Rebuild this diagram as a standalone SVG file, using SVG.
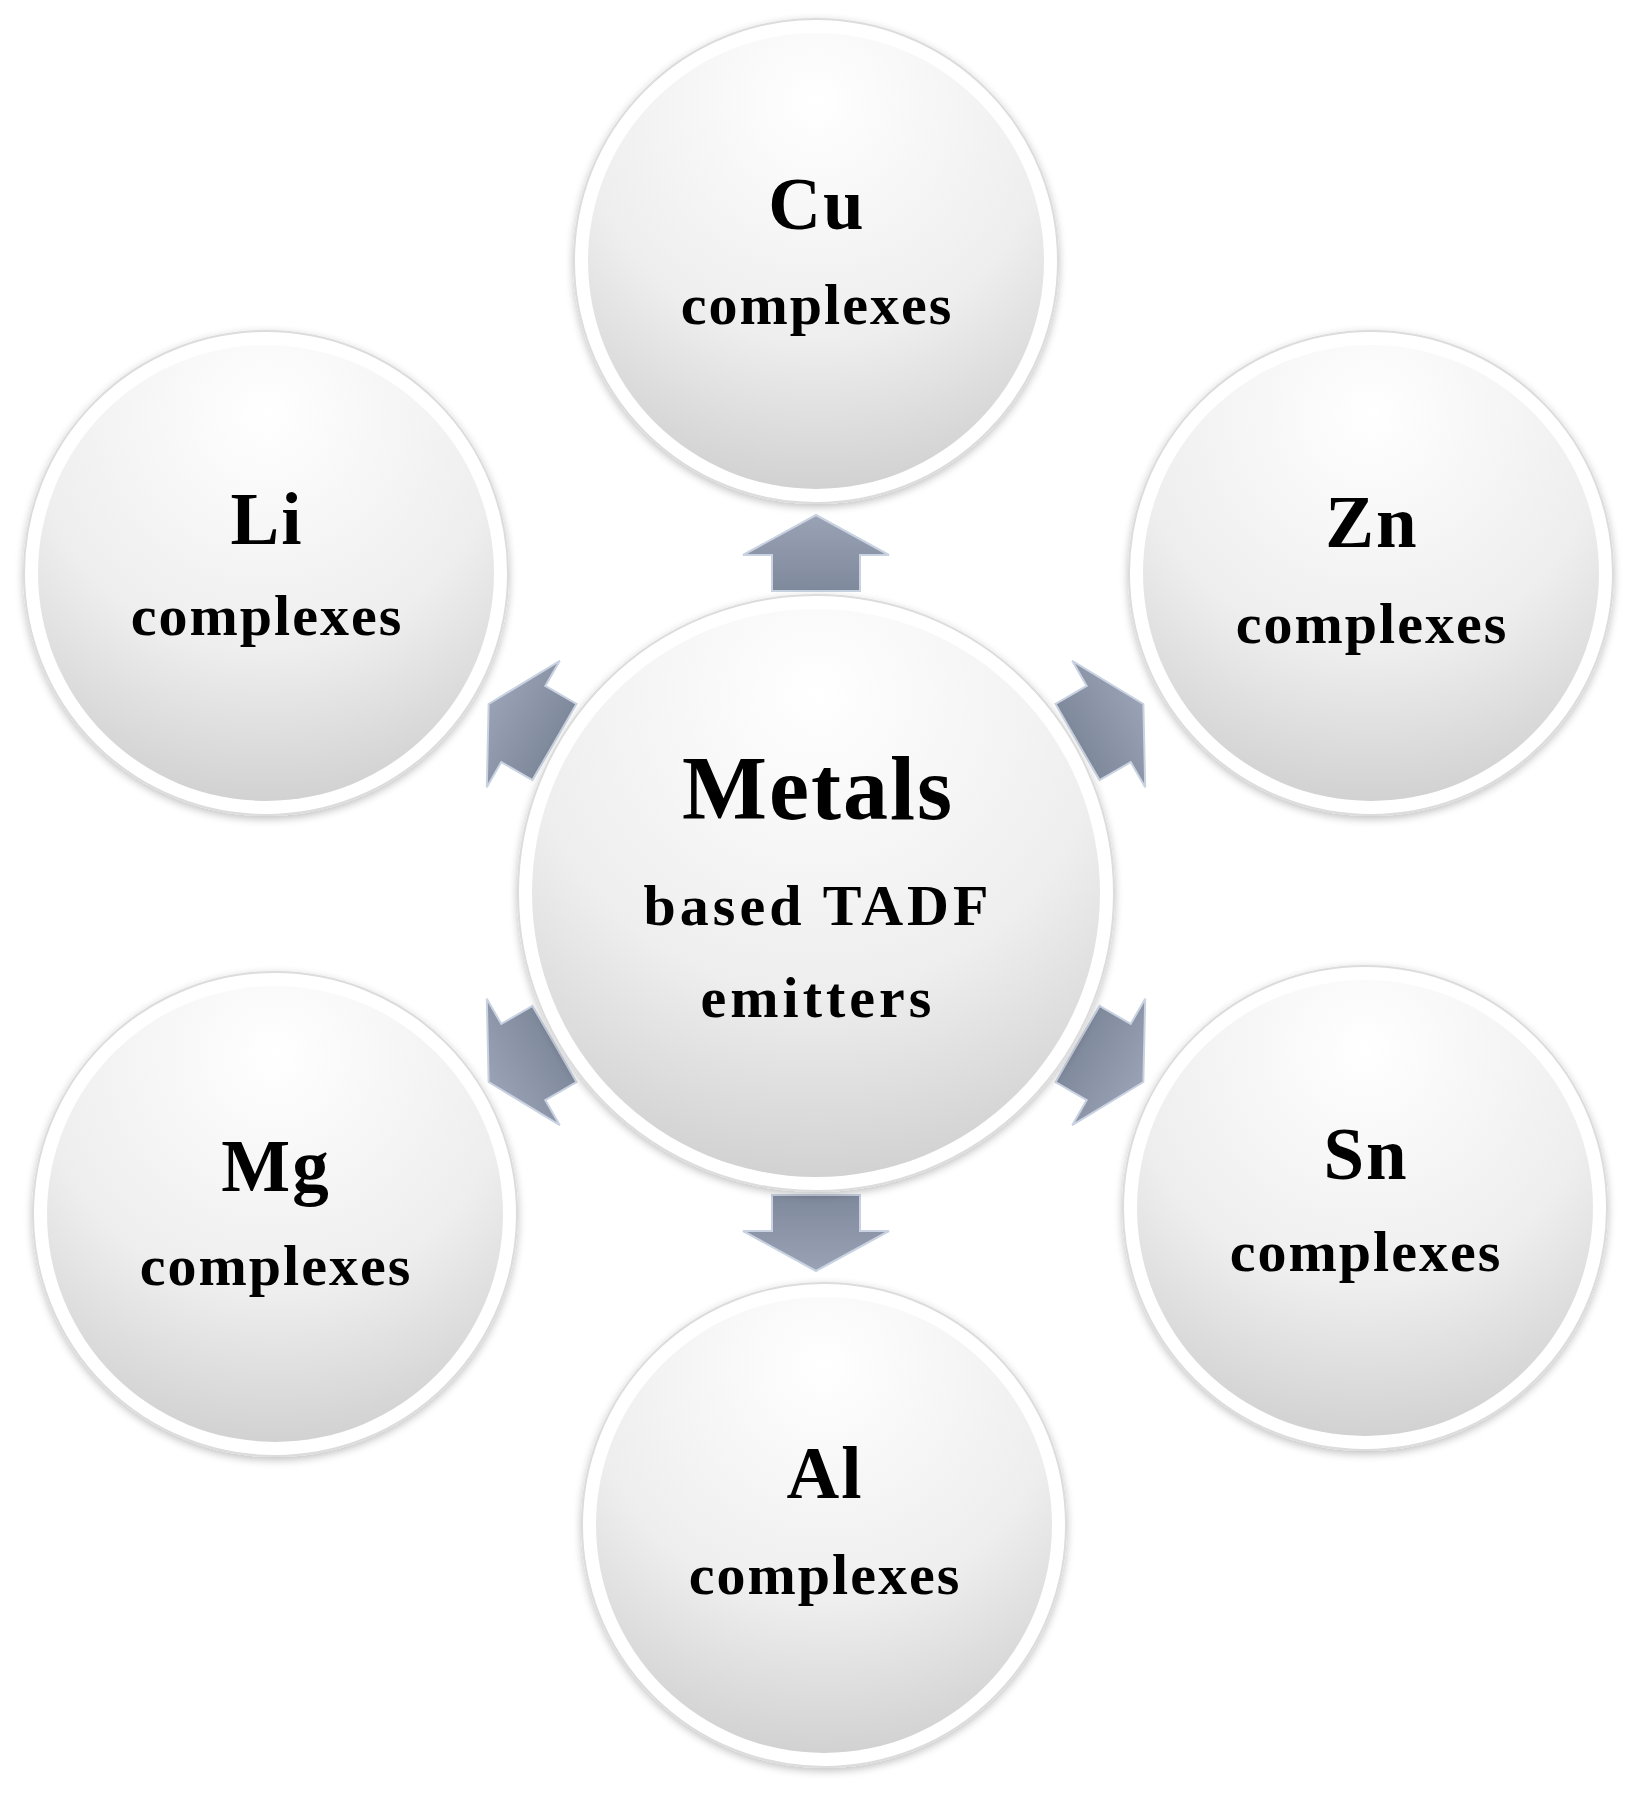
<svg xmlns="http://www.w3.org/2000/svg" width="1645" height="1803" viewBox="0 0 1645 1803">
<style>
.ring{fill:#ffffff;stroke:#dcdcdc;stroke-width:2}
.disc{fill:url(#g)}
.t{font-family:"Liberation Serif","Times New Roman",serif;font-weight:bold;text-anchor:middle;fill:#000}
.big{font-size:73px;letter-spacing:2px}
.small{font-size:58px;letter-spacing:2px}
.mid{font-size:58px;letter-spacing:4px}
.arr{fill:url(#ag);stroke:#c8d2e0;stroke-width:2}
</style>
<defs>
<radialGradient id="g" cx="0.5" cy="0.15" r="0.95">
<stop offset="0" stop-color="#ffffff"/>
<stop offset="0.55" stop-color="#eeeeee"/>
<stop offset="1" stop-color="#c9c9c9"/>
</radialGradient>
<linearGradient id="ag" x1="0" y1="0" x2="0" y2="1">
<stop offset="0" stop-color="#9aa3b5"/>
<stop offset="1" stop-color="#7f899c"/>
</linearGradient>
<filter id="sh" x="-10%" y="-10%" width="120%" height="120%">
<feGaussianBlur in="SourceAlpha" stdDeviation="4"/>
<feOffset dx="0" dy="3"/>
<feComponentTransfer><feFuncA type="linear" slope="0.25"/></feComponentTransfer>
<feMerge><feMergeNode/><feMergeNode in="SourceGraphic"/></feMerge>
</filter>
<path id="a" d="M0,-38 L73,2 L44,2 L44,38 L-44,38 L-44,2 L-73,2 Z"/>
</defs>
<rect width="1645" height="1803" fill="#fff"/>
<g id="connectors">
<use href="#a" class="arr" transform="translate(816,893) rotate(0) translate(0,-340)"/>
<use href="#a" class="arr" transform="translate(816,893) rotate(60) translate(0,-340)"/>
<use href="#a" class="arr" transform="translate(816,893) rotate(120) translate(0,-340)"/>
<use href="#a" class="arr" transform="translate(816,893) rotate(180) translate(0,-340)"/>
<use href="#a" class="arr" transform="translate(816,893) rotate(240) translate(0,-340)"/>
<use href="#a" class="arr" transform="translate(816,893) rotate(300) translate(0,-340)"/>
</g>
<g id="center" filter="url(#sh)">
<circle class="ring" cx="816" cy="893" r="298"/>
<circle class="disc" cx="816" cy="893" r="284"/>
<text class="t" x="818" y="819" font-size="90" letter-spacing="2">Metals</text>
<text class="t mid" x="818" y="925">based TADF</text>
<text class="t mid" x="818" y="1017">emitters</text>
</g>
<g id="cu" filter="url(#sh)">
<circle class="ring" cx="816" cy="261" r="242"/>
<circle class="disc" cx="816" cy="261" r="228"/>
<text class="t big" x="817" y="229">Cu</text>
<text class="t small" x="817" y="324">complexes</text>
</g>
<g id="li" filter="url(#sh)">
<circle class="ring" cx="266" cy="573" r="242"/>
<circle class="disc" cx="266" cy="573" r="228"/>
<text class="t big" x="267" y="544">Li</text>
<text class="t small" x="267" y="635">complexes</text>
</g>
<g id="zn" filter="url(#sh)">
<circle class="ring" cx="1371" cy="573" r="242"/>
<circle class="disc" cx="1371" cy="573" r="228"/>
<text class="t big" x="1372" y="547">Zn</text>
<text class="t small" x="1372" y="643">complexes</text>
</g>
<g id="mg" filter="url(#sh)">
<circle class="ring" cx="275" cy="1214" r="242"/>
<circle class="disc" cx="275" cy="1214" r="228"/>
<text class="t big" x="276" y="1191">Mg</text>
<text class="t small" x="276" y="1285">complexes</text>
</g>
<g id="sn" filter="url(#sh)">
<circle class="ring" cx="1365" cy="1208" r="242"/>
<circle class="disc" cx="1365" cy="1208" r="228"/>
<text class="t big" x="1366" y="1179">Sn</text>
<text class="t small" x="1366" y="1271">complexes</text>
</g>
<g id="al" filter="url(#sh)">
<circle class="ring" cx="824" cy="1525" r="242"/>
<circle class="disc" cx="824" cy="1525" r="228"/>
<text class="t big" x="825" y="1498">Al</text>
<text class="t small" x="825" y="1594">complexes</text>
</g>
</svg>
